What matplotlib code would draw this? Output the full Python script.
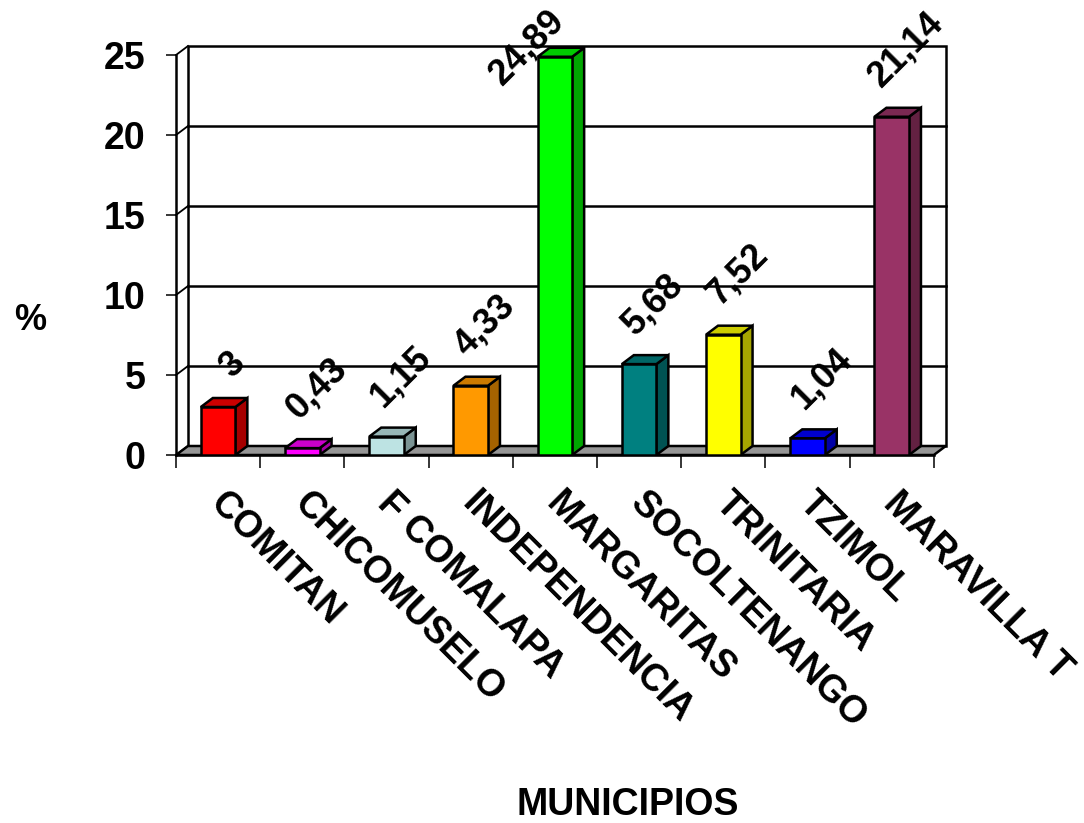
import matplotlib
matplotlib.use("Agg")
import matplotlib.pyplot as plt
from matplotlib.patches import Polygon, Rectangle
from matplotlib.colors import to_rgb

plt.rcParams['font.family'] = ['Liberation Sans', 'DejaVu Sans']
plt.rcParams['font.weight'] = 'bold'

# datos
municipios = ['COMITAN', 'CHICOMUSELO', 'F COMALAPA', 'INDEPENDENCIA', 'MARGARITAS',
              'SOCOLTENANGO', 'TRINITARIA', 'TZIMOL', 'MARAVILLA T']
porcentajes = [3, 0.43, 1.15, 4.33, 24.89, 5.68, 7.52, 1.04, 21.14]
etiquetas = ['3', '0,43', '1,15', '4,33', '24,89', '5,68', '7,52', '1,04', '21,14']
colores = ['#FF0000', '#FF00FF', '#BDE3E3', '#FF9900', '#00FF00',
           '#008080', '#FFFF00', '#0000FF', '#993366']
yticks = [0, 5, 10, 15, 20, 25]

W, H = 1084, 823
fig = plt.figure(figsize=(W / 100, H / 100), dpi=100)

# geometria en pixeles
px_cat = 84.2      # ancho de categoria
px_val = 16.0      # pixeles por unidad
dxu = 12 / px_cat  # profundidad en x
dyu = 9 / px_val   # profundidad en y
ymax = 25

left, bottom = 176, 455
ax_w = px_cat * (9 + dxu)
ax_h = px_val * (ymax + dyu)
ax = fig.add_axes([left / W, (H - bottom) / H, ax_w / W, ax_h / H])
ax.set_xlim(-0.5, 8.5 + dxu)
ax.set_ylim(0, ymax + dyu)
ax.patch.set_visible(False)

lw = 1.8
# pared del fondo
ax.add_patch(Rectangle((-0.5 + dxu, dyu), 9, ymax, facecolor='white',
                       edgecolor='black', lw=lw, zorder=1, clip_on=False))
for v in yticks:
    if 0 < v < ymax:
        ax.plot([-0.5 + dxu, 8.5 + dxu], [v + dyu, v + dyu], color='black', lw=lw,
                zorder=1.5, clip_on=False)
    ax.plot([-0.5, -0.5 + dxu], [v, v + dyu], color='black', lw=1.3, zorder=1.5,
            clip_on=False)

# piso
ax.add_patch(Polygon([(-0.5, 0), (8.5, 0), (8.5 + dxu, dyu), (-0.5 + dxu, dyu)],
                     closed=True, facecolor='#969696', edgecolor='black', lw=lw,
                     zorder=2, clip_on=False))

# ejes
for s in ['top', 'right']:
    ax.spines[s].set_visible(False)
ax.spines['left'].set_bounds(0, ymax)
ax.spines['bottom'].set_bounds(-0.5, 8.5)
ax.spines['left'].set_linewidth(lw)
ax.spines['bottom'].set_linewidth(lw)
ax.spines['left'].set_zorder(3)
ax.set_yticks(yticks)
ax.set_yticklabels([str(v) for v in yticks], fontsize=27, fontweight='bold')
ax.tick_params(axis='y', length=7, width=1.1, pad=15)
ax.set_xticks([i - 0.5 for i in range(10)])
ax.set_xticklabels([])
ax.tick_params(axis='x', length=9, width=1.1)

# barras 3D
bw = 0.41
x = list(range(len(porcentajes)))


def sombra(c, f):
    r, g, b = to_rgb(c)
    return (r * f, g * f, b * f)


ax.bar(x, porcentajes, width=bw, color=colores, edgecolor='black', lw=lw, zorder=5)
for i, v in enumerate(porcentajes):
    xr = i + bw / 2
    xl = i - bw / 2
    ax.add_patch(Polygon([(xr, 0), (xr + dxu, dyu), (xr + dxu, v + dyu), (xr, v)],
                         closed=True, facecolor=sombra(colores[i], 0.65),
                         edgecolor='black', lw=lw, zorder=4))
    ax.add_patch(Polygon([(xl, v), (xr, v), (xr + dxu, v + dyu), (xl + dxu, v + dyu)],
                         closed=True, facecolor=sombra(colores[i], 0.8),
                         edgecolor='black', lw=lw, zorder=4, clip_on=False))

# etiquetas de datos
for i, v in enumerate(porcentajes):
    if v > 0.9 * ymax:
        ax.annotate(etiquetas[i], xy=(i, v), xytext=(-20, 7), textcoords='offset points',
                    rotation=45, ha='center', va='center', fontsize=26,
                    fontweight='bold', zorder=6, annotation_clip=False)
    else:
        ax.annotate(etiquetas[i], xy=(i + dxu / 2, v + dyu / 2), xytext=(6, 13),
                    textcoords='offset points', rotation=45, ha='center', va='bottom',
                    fontsize=26, fontweight='bold', zorder=6, annotation_clip=False)

# etiquetas de categorias
for i, m in enumerate(municipios):
    ax.annotate(m, xy=(i, 0), xytext=(7, -22), textcoords='offset points',
                rotation=-45, rotation_mode='anchor', ha='left', va='top',
                fontsize=27, fontweight='bold', annotation_clip=False)

fig.text(30 / W, 1 - 320 / H, '%', ha='center', va='center', fontsize=26,
         fontweight='bold')
fig.text(628 / W, 1 - 805 / H, 'MUNICIPIOS', ha='center', va='center', fontsize=27,
         fontweight='bold')

fig.savefig('out.png', dpi=100)
